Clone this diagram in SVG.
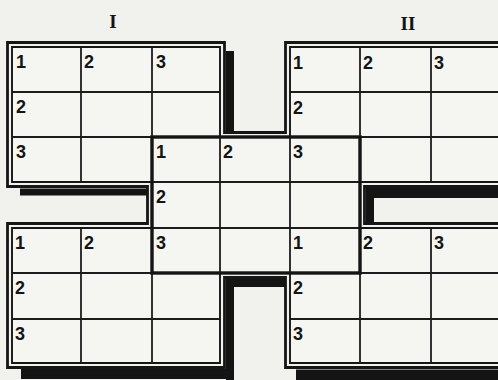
<svg xmlns="http://www.w3.org/2000/svg" width="498" height="380" viewBox="0 0 498 380">
<style>
.bg{fill:#f1f1ed}
.sh{fill:#141414}
.fill{fill:#f5f5f2;stroke:none}
.outer{fill:none;stroke:#161616;stroke-width:2.8;stroke-linejoin:miter}
.inner{fill:none;stroke:#161616;stroke-width:1.9;stroke-linejoin:miter}
.grid{stroke:#1c1c1c;stroke-width:1.8;fill:none}
.mid{fill:none;stroke:#141414;stroke-width:3.4}
.num{font-family:"Liberation Sans","DejaVu Sans",sans-serif;font-weight:bold;font-size:18px;fill:#141414}
.title{font-family:"Liberation Serif","DejaVu Serif",serif;font-weight:bold;font-size:19px;fill:#141414;text-anchor:middle}
</style>
<rect class="bg" x="0" y="0" width="498" height="380"/>
<text class="title" x="113" y="28">I</text>
<text class="title" x="408" y="30">II</text>
<g id="shadows">
<rect class="sh" x="226" y="51" width="8" height="83"/>
<rect class="sh" x="20" y="188.5" width="127" height="7"/>
<rect class="sh" x="366" y="188" width="140" height="10"/>
<rect class="sh" x="366" y="188" width="8" height="35"/>
<rect class="sh" x="226" y="279" width="8" height="101"/>
<rect class="sh" x="226" y="279" width="59" height="8"/>
<rect class="sh" x="21" y="369" width="213" height="10"/>
<rect class="sh" x="296" y="369.5" width="210" height="11"/>
</g>
<g id="frame">
<polygon class="fill" points="12,47 220,47 220,137 290,137 290,47 502,47 502,182 360,182 360,228 502,228 502,363 290,363 290,273 220,273 220,363 12,363 12,228 152,228 152,182 12,182"/>
</g>
<g id="block-I">
<line class="grid" x1="81" y1="47" x2="81" y2="182"/>
<line class="grid" x1="152" y1="47" x2="152" y2="182"/>
<line class="grid" x1="12" y1="92" x2="220" y2="92"/>
<line class="grid" x1="12" y1="137" x2="220" y2="137"/>
<text class="num" x="16" y="68">1</text>
<text class="num" x="84" y="68">2</text>
<text class="num" x="156" y="68">3</text>
<text class="num" x="16" y="113">2</text>
<text class="num" x="16" y="158">3</text>
</g>
<g id="block-II">
<line class="grid" x1="360" y1="47" x2="360" y2="182"/>
<line class="grid" x1="431" y1="47" x2="431" y2="182"/>
<line class="grid" x1="290" y1="92" x2="502" y2="92"/>
<line class="grid" x1="290" y1="137" x2="502" y2="137"/>
<text class="num" x="293" y="69">1</text>
<text class="num" x="363" y="69">2</text>
<text class="num" x="434" y="69">3</text>
<text class="num" x="293" y="114">2</text>
</g>
<g id="block-III">
<line class="grid" x1="81" y1="228" x2="81" y2="363"/>
<line class="grid" x1="152" y1="228" x2="152" y2="363"/>
<line class="grid" x1="12" y1="273" x2="220" y2="273"/>
<line class="grid" x1="12" y1="319" x2="220" y2="319"/>
<text class="num" x="15" y="249">1</text>
<text class="num" x="84" y="249">2</text>
<text class="num" x="15" y="294">2</text>
<text class="num" x="15" y="340">3</text>
</g>
<g id="block-IV">
<line class="grid" x1="360" y1="228" x2="360" y2="363"/>
<line class="grid" x1="431" y1="228" x2="431" y2="363"/>
<line class="grid" x1="290" y1="273" x2="502" y2="273"/>
<line class="grid" x1="290" y1="319" x2="502" y2="319"/>
<text class="num" x="293" y="249">1</text>
<text class="num" x="363" y="249">2</text>
<text class="num" x="434" y="249">3</text>
<text class="num" x="293" y="294">2</text>
<text class="num" x="293" y="340">3</text>
</g>
<g id="outline">
<polygon class="outer" points="7.5,42.5 224.5,42.5 224.5,132.5 285.5,132.5 285.5,42.5 506.5,42.5 506.5,186.5 364.5,186.5 364.5,223.5 506.5,223.5 506.5,367.5 285.5,367.5 285.5,277.5 224.5,277.5 224.5,367.5 7.5,367.5 7.5,223.5 147.5,223.5 147.5,186.5 7.5,186.5"/>
<polygon class="inner" points="12,47 220,47 220,137 290,137 290,47 502,47 502,182 360,182 360,228 502,228 502,363 290,363 290,273 220,273 220,363 12,363 12,228 152,228 152,182 12,182"/>
</g>
<g id="block-middle">
<line class="grid" x1="220" y1="137" x2="220" y2="273"/>
<line class="grid" x1="290" y1="137" x2="290" y2="273"/>
<line class="grid" x1="152" y1="182" x2="360" y2="182"/>
<line class="grid" x1="152" y1="228" x2="360" y2="228"/>
<rect class="mid" x="152" y="137" width="208" height="136"/>
<text class="num" x="156" y="158">1</text>
<text class="num" x="223" y="158">2</text>
<text class="num" x="293" y="158">3</text>
<text class="num" x="156" y="203">2</text>
<text class="num" x="156" y="249">3</text>
</g>
</svg>
